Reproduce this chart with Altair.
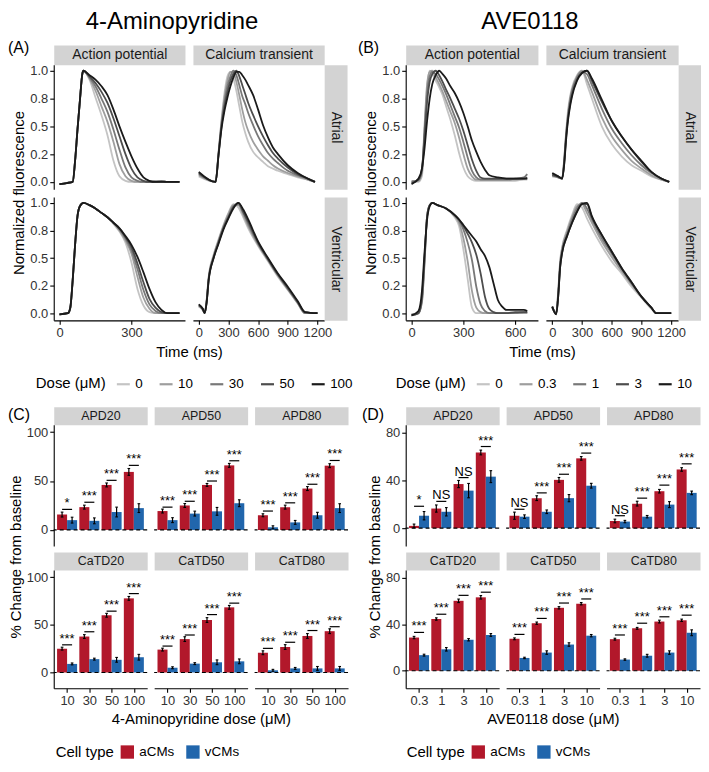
import altair as alt
import pandas as pd

FONT = "Liberation Sans"
STRIP = "#d3d3d3"
GRAYS = ["#c4c4c4", "#9e9e9e", "#787878", "#4d4d4d", "#1a1a1a"]
CELL_COLORS = ["#b2182b", "#2166ac"]
CELLS = ["aCMs", "vCMs"]

DOSES_4AP = ["0", "10", "30", "50", "100"]
DOSES_AVE = ["0", "0.3", "1", "3", "10"]
TRACE_TICKS = [0, 0.25, 0.5, 0.75, 1.0]
TRACE_TICK_LABELS = ["0.0", "0.2", "0.5", "0.8", "1.0"]

T_4AP_AP_ATR = [0, 30, 55, 65, 75, 85, 95, 100, 125, 150, 175, 200, 225, 250, 275, 300,
                325, 350, 375, 400, 425, 450, 475, 500]
V_4AP_AP_ATR = {
    "0":   [-0.02, -0.01, 0.0, 0.19, 0.47, 0.73, 0.97, 1.0, 0.92, 0.76, 0.60, 0.42, 0.19, 0.05, 0.01, 0.0, 0.0, 0.0, 0.01, 0.01, 0.01, 0.0, 0.0, 0.0],
    "10":  [-0.02, -0.01, 0.0, 0.19, 0.47, 0.73, 0.97, 1.0, 0.93, 0.82, 0.68, 0.54, 0.36, 0.16, 0.05, 0.01, 0.0, 0.0, 0.0, 0.01, 0.01, 0.0, 0.0, 0.0],
    "30":  [-0.02, -0.01, 0.0, 0.19, 0.47, 0.73, 0.97, 1.0, 0.94, 0.86, 0.75, 0.63, 0.47, 0.29, 0.13, 0.04, 0.01, 0.0, 0.0, 0.0, 0.01, 0.0, 0.0, 0.0],
    "50":  [-0.02, -0.01, 0.0, 0.19, 0.47, 0.73, 0.97, 1.0, 0.95, 0.89, 0.81, 0.71, 0.57, 0.41, 0.25, 0.12, 0.04, 0.01, 0.0, 0.0, 0.0, 0.0, 0.0, 0.0],
    "100": [-0.02, -0.01, 0.0, 0.19, 0.47, 0.73, 0.97, 1.0, 0.96, 0.92, 0.86, 0.78, 0.65, 0.50, 0.36, 0.23, 0.12, 0.04, 0.01, 0.0, 0.0, 0.0, 0.0, 0.0],
}
T_4AP_CA_ATR = [0, 170, 200, 230, 260, 290, 320, 350, 380, 410, 440, 470, 500, 550, 600, 650,
                700, 750, 800, 900, 1000, 1100, 1175]
V_4AP_CA_ATR = {
    "0":   [0.05, 0.0, 0.27, 0.56, 0.80, 0.95, 0.99, 0.93, 0.82, 0.68, 0.54, 0.44, 0.36, 0.27, 0.22, 0.18, 0.14, 0.12, 0.10, 0.07, 0.04, 0.02, 0.0],
    "10":  [0.06, 0.0, 0.26, 0.54, 0.76, 0.91, 0.99, 0.98, 0.90, 0.78, 0.65, 0.54, 0.46, 0.36, 0.29, 0.23, 0.19, 0.15, 0.12, 0.08, 0.05, 0.02, 0.0],
    "30":  [0.07, 0.0, 0.25, 0.52, 0.72, 0.86, 0.95, 1.0, 0.96, 0.87, 0.77, 0.70, 0.62, 0.51, 0.41, 0.33, 0.26, 0.21, 0.17, 0.10, 0.06, 0.03, 0.0],
    "50":  [0.08, 0.0, 0.25, 0.50, 0.68, 0.81, 0.91, 0.97, 1.0, 0.95, 0.87, 0.79, 0.71, 0.60, 0.50, 0.41, 0.33, 0.26, 0.21, 0.13, 0.07, 0.03, 0.0],
    "100": [0.09, 0.0, 0.24, 0.48, 0.64, 0.76, 0.86, 0.94, 0.99, 0.99, 0.96, 0.92, 0.87, 0.78, 0.65, 0.51, 0.40, 0.31, 0.25, 0.15, 0.08, 0.03, 0.0],
}
T_4AP_AP_VEN = [0, 35, 45, 55, 65, 75, 85, 100, 125, 150, 175, 200, 225, 250, 275, 300,
                325, 350, 375, 400, 425, 450, 475, 500]
V_4AP_AP_VEN = {
    "0":   [-0.01, 0.0, 0.05, 0.30, 0.62, 0.88, 0.97, 1.0, 0.98, 0.95, 0.91, 0.87, 0.81, 0.74, 0.64, 0.46, 0.22, 0.07, 0.01, 0.0, 0.0, 0.0, 0.0, 0.0],
    "10":  [-0.01, 0.0, 0.05, 0.30, 0.62, 0.88, 0.97, 1.0, 0.98, 0.95, 0.91, 0.87, 0.82, 0.75, 0.66, 0.54, 0.33, 0.14, 0.04, 0.0, 0.0, 0.0, 0.0, 0.0],
    "30":  [-0.01, 0.0, 0.05, 0.30, 0.62, 0.88, 0.97, 1.0, 0.98, 0.95, 0.91, 0.87, 0.82, 0.76, 0.68, 0.57, 0.40, 0.21, 0.08, 0.02, 0.0, 0.0, 0.0, 0.0],
    "50":  [-0.01, 0.0, 0.05, 0.30, 0.62, 0.88, 0.97, 1.0, 0.98, 0.95, 0.91, 0.87, 0.82, 0.77, 0.69, 0.60, 0.45, 0.28, 0.13, 0.05, 0.01, 0.0, 0.0, 0.0],
    "100": [-0.01, 0.0, 0.05, 0.30, 0.62, 0.88, 0.97, 1.0, 0.98, 0.95, 0.91, 0.87, 0.82, 0.77, 0.70, 0.62, 0.51, 0.37, 0.22, 0.10, 0.03, 0.0, 0.0, 0.0],
}
T_4AP_CA_VEN = [0, 40, 60, 80, 100, 150, 200, 250, 300, 350, 400, 450, 500, 600, 700, 800,
                900, 1000, 1075, 1200]
V_4AP_CA_VEN = {
    "0":   [0.07, 0.03, 0.0, 0.12, 0.33, 0.53, 0.67, 0.80, 0.91, 0.99, 0.96, 0.87, 0.77, 0.61, 0.47, 0.33, 0.21, 0.09, 0.0, 0.0],
    "10":  [0.06, 0.03, 0.0, 0.12, 0.32, 0.52, 0.66, 0.79, 0.90, 0.98, 0.98, 0.89, 0.79, 0.62, 0.48, 0.34, 0.22, 0.09, 0.0, 0.0],
    "30":  [0.08, 0.04, 0.0, 0.11, 0.31, 0.51, 0.65, 0.78, 0.88, 0.97, 0.99, 0.91, 0.81, 0.63, 0.49, 0.35, 0.22, 0.10, 0.0, 0.0],
    "50":  [0.07, 0.04, 0.0, 0.10, 0.30, 0.50, 0.64, 0.77, 0.87, 0.96, 1.0, 0.92, 0.83, 0.64, 0.49, 0.35, 0.23, 0.10, 0.01, 0.0],
    "100": [0.08, 0.04, 0.0, 0.10, 0.30, 0.50, 0.63, 0.76, 0.86, 0.95, 1.0, 0.94, 0.85, 0.65, 0.50, 0.36, 0.24, 0.11, 0.01, 0.0],
}
T_AVE_AP_ATR = [0, 40, 60, 75, 90, 105, 120, 140, 160, 180, 200, 225, 250, 275, 300, 325,
                350, 375, 400, 425, 450, 500, 550, 600, 650, 670]
V_AVE_AP_ATR = {
    "0":   [0.0, 0.0, 0.05, 0.45, 0.85, 1.0, 0.97, 0.91, 0.85, 0.78, 0.68, 0.56, 0.42, 0.26, 0.13, 0.05, 0.02, 0.01, 0.01, 0.01, 0.01, 0.01, 0.01, 0.01, 0.02, 0.02],
    "0.3": [0.01, 0.01, 0.08, 0.50, 0.88, 0.99, 1.0, 0.94, 0.88, 0.81, 0.73, 0.63, 0.53, 0.40, 0.25, 0.12, 0.05, 0.02, 0.02, 0.02, 0.02, 0.02, 0.02, 0.02, 0.03, 0.03],
    "1":   [0.0, 0.02, 0.10, 0.45, 0.80, 0.95, 0.99, 0.97, 0.92, 0.86, 0.79, 0.69, 0.59, 0.49, 0.36, 0.22, 0.10, 0.04, 0.02, 0.02, 0.02, 0.02, 0.02, 0.03, 0.04, 0.07],
    "3":   [-0.01, 0.02, 0.12, 0.40, 0.72, 0.90, 0.97, 1.0, 0.96, 0.90, 0.83, 0.75, 0.66, 0.57, 0.46, 0.33, 0.20, 0.10, 0.04, 0.03, 0.03, 0.03, 0.03, 0.03, 0.03, 0.04],
    "10":  [-0.02, 0.03, 0.12, 0.30, 0.55, 0.75, 0.88, 0.96, 1.0, 0.97, 0.93, 0.86, 0.80, 0.72, 0.62, 0.50, 0.37, 0.27, 0.18, 0.11, 0.06, 0.04, 0.03, 0.03, 0.03, 0.03],
}
T_AVE_CA_ATR = [0, 60, 100, 120, 140, 160, 180, 200, 250, 300, 350, 400, 500, 600, 700, 800,
                900, 1000, 1100, 1180]
V_AVE_CA_ATR = {
    "0":   [0.06, 0.04, 0.03, 0.20, 0.45, 0.65, 0.77, 0.85, 0.96, 1.0, 0.88, 0.75, 0.50, 0.34, 0.23, 0.15, 0.10, 0.05, 0.02, 0.0],
    "0.3": [0.05, 0.04, 0.03, 0.19, 0.43, 0.62, 0.75, 0.83, 0.95, 1.0, 0.92, 0.81, 0.58, 0.41, 0.29, 0.19, 0.12, 0.06, 0.02, 0.0],
    "1":   [0.07, 0.04, 0.03, 0.18, 0.42, 0.60, 0.73, 0.82, 0.94, 0.99, 0.97, 0.87, 0.66, 0.48, 0.35, 0.24, 0.15, 0.08, 0.03, 0.0],
    "3":   [0.06, 0.05, 0.03, 0.16, 0.40, 0.58, 0.70, 0.79, 0.92, 0.98, 1.0, 0.91, 0.72, 0.55, 0.41, 0.29, 0.18, 0.09, 0.03, 0.0],
    "10":  [0.08, 0.05, 0.03, 0.15, 0.38, 0.56, 0.68, 0.77, 0.91, 0.98, 1.0, 0.93, 0.74, 0.55, 0.41, 0.29, 0.19, 0.09, 0.03, 0.0],
}
T_AVE_AP_VEN = [0, 40, 60, 75, 90, 105, 120, 150, 200, 250, 275, 300, 325, 350, 375, 400,
                425, 450, 475, 500, 525, 550, 600, 650, 670]
V_AVE_AP_VEN = {
    "0":   [-0.01, 0.0, 0.10, 0.45, 0.88, 0.98, 1.0, 0.98, 0.95, 0.87, 0.79, 0.58, 0.31, 0.05, 0.0, 0.0, 0.0, 0.0, 0.0, 0.0, 0.0, 0.0, 0.0, 0.0, 0.0],
    "0.3": [-0.01, 0.0, 0.10, 0.45, 0.88, 0.98, 1.0, 0.98, 0.95, 0.88, 0.82, 0.68, 0.47, 0.20, 0.05, 0.01, 0.0, 0.0, 0.0, 0.0, 0.0, 0.0, 0.0, 0.0, 0.0],
    "1":   [-0.02, 0.0, 0.12, 0.48, 0.88, 0.98, 1.0, 0.98, 0.95, 0.89, 0.84, 0.76, 0.64, 0.48, 0.24, 0.08, 0.02, 0.0, 0.0, 0.0, 0.0, 0.0, 0.0, 0.01, 0.01],
    "3":   [-0.02, 0.0, 0.14, 0.50, 0.88, 0.98, 1.0, 0.98, 0.95, 0.89, 0.85, 0.79, 0.72, 0.64, 0.53, 0.36, 0.15, 0.04, 0.01, 0.0, 0.0, 0.0, 0.01, 0.01, 0.01],
    "10":  [-0.02, 0.02, 0.20, 0.55, 0.85, 0.97, 1.0, 0.98, 0.95, 0.89, 0.85, 0.80, 0.75, 0.70, 0.65, 0.58, 0.52, 0.42, 0.27, 0.12, 0.06, 0.03, 0.03, 0.03, 0.02],
}
T_AVE_CA_VEN = [0, 40, 60, 80, 100, 150, 200, 250, 300, 350, 400, 500, 600, 700, 800, 900,
                1000, 1050, 1200]
V_AVE_CA_VEN = {
    "0":   [0.05, 0.0, 0.20, 0.48, 0.60, 0.76, 0.89, 0.99, 0.96, 0.86, 0.77, 0.61, 0.47, 0.36, 0.24, 0.14, 0.04, 0.0, 0.0],
    "0.3": [0.05, 0.0, 0.19, 0.46, 0.59, 0.74, 0.87, 0.97, 0.99, 0.91, 0.82, 0.65, 0.51, 0.38, 0.26, 0.15, 0.05, 0.0, 0.0],
    "1":   [0.06, 0.0, 0.17, 0.44, 0.57, 0.72, 0.85, 0.95, 1.0, 0.95, 0.85, 0.68, 0.54, 0.40, 0.27, 0.15, 0.05, 0.0, 0.0],
    "3":   [0.06, -0.01, 0.15, 0.42, 0.55, 0.70, 0.82, 0.92, 0.99, 0.99, 0.87, 0.71, 0.56, 0.41, 0.28, 0.15, 0.05, 0.0, 0.0],
    "10":  [0.06, -0.01, 0.15, 0.42, 0.55, 0.70, 0.82, 0.92, 0.99, 1.0, 0.88, 0.71, 0.56, 0.41, 0.28, 0.15, 0.05, 0.0, 0.0],
}

METRICS = ["APD20", "APD50", "APD80", "CaTD20", "CaTD50", "CaTD80"]
BAR_DOSES_4AP = ["10", "30", "50", "100"]
BAR_DOSES_AVE = ["0.3", "1", "3", "10"]

A_MEAN_4AP = {"APD20": [15.7, 23.3, 46.0, 59.3], "APD50": [19.3, 25.0, 46.0, 66.0],
              "APD80": [15.0, 23.3, 42.3, 65.7], "CaTD20": [25.0, 37.7, 60.0, 77.7],
              "CaTD50": [24.0, 35.0, 55.0, 68.3], "CaTD80": [20.7, 26.7, 38.3, 43.3]}
A_ERR_4AP = {"APD20": [2.5, 2.0, 2.0, 3.5], "APD50": [2.0, 2.0, 1.5, 2.0],
             "APD80": [1.5, 2.0, 2.0, 2.0], "CaTD20": [1.5, 2.0, 2.0, 2.0],
             "CaTD50": [1.5, 2.5, 2.5, 2.0], "CaTD80": [2.0, 2.5, 2.5, 2.5]}
V_MEAN_4AP = {"APD20": [10.0, 9.3, 18.3, 22.3], "APD50": [10.0, 16.7, 19.0, 27.3],
              "APD80": [2.7, 7.7, 15.0, 22.3], "CaTD20": [9.0, 14.0, 13.3, 16.0],
              "CaTD50": [5.0, 9.3, 10.7, 11.7], "CaTD80": [2.3, 4.3, 4.3, 4.3]}
V_ERR_4AP = {"APD20": [3.0, 3.0, 5.0, 4.5], "APD50": [2.5, 2.5, 4.0, 3.5],
             "APD80": [1.5, 2.0, 3.0, 4.5], "CaTD20": [1.0, 1.0, 2.5, 3.0],
             "CaTD50": [1.0, 1.0, 2.5, 2.5], "CaTD80": [1.0, 1.0, 2.0, 2.0]}
SIG_Y_4AP = {"APD20": [21.0, 28.3, 50.7, 66.0], "APD50": [23.3, 29.3, 50.0, 70.7],
             "APD80": [19.3, 27.7, 46.7, 71.0], "CaTD20": [29.0, 42.7, 64.3, 82.7],
             "CaTD50": [27.7, 39.3, 60.7, 72.7], "CaTD80": [25.3, 31.7, 44.0, 48.0]}
SIG_4AP = {"APD20": ["*", "***", "***", "***"], "APD50": ["***", "***", "***", "***"],
           "APD80": ["***", "***", "***", "***"], "CaTD20": ["***", "***", "***", "***"],
           "CaTD50": ["***", "***", "***", "***"], "CaTD80": ["***", "***", "***", "***"]}

A_MEAN_AVE = {"APD20": [1.9, 16.4, 36.9, 63.3], "APD50": [10.4, 25.1, 40.4, 58.4],
              "APD80": [6.0, 20.5, 30.9, 49.1], "CaTD20": [28.5, 44.4, 60.0, 63.0],
              "CaTD50": [27.4, 40.8, 54.0, 57.5], "CaTD80": [27.1, 36.4, 42.2, 43.3]}
A_ERR_AVE = {"APD20": [1.5, 3.0, 3.0, 2.0], "APD50": [3.0, 2.0, 2.0, 1.5],
             "APD80": [1.5, 2.0, 1.5, 1.5], "CaTD20": [1.0, 1.0, 1.5, 1.5],
             "CaTD50": [0.8, 1.0, 1.0, 1.0], "CaTD80": [0.8, 0.8, 1.2, 1.0]}
V_MEAN_AVE = {"APD20": [10.4, 13.7, 31.4, 43.1], "APD50": [9.6, 13.7, 25.1, 35.5],
              "APD80": [5.5, 9.6, 19.7, 29.5], "CaTD20": [13.4, 18.4, 26.6, 30.7],
              "CaTD50": [11.0, 15.6, 22.5, 30.1], "CaTD80": [9.6, 12.9, 15.6, 32.6]}
V_ERR_AVE = {"APD20": [3.5, 3.5, 6.0, 5.0], "APD50": [1.5, 1.5, 3.0, 2.0],
             "APD80": [1.0, 1.0, 2.5, 1.5], "CaTD20": [0.8, 1.5, 1.0, 1.2],
             "CaTD50": [0.6, 1.5, 1.5, 1.0], "CaTD80": [0.6, 1.2, 1.5, 2.5]}
SIG_Y_AVE = {"APD20": [18.3, 22.4, 42.3, 68.3], "APD50": [15.8, 29.5, 45.1, 62.8],
             "APD80": [10.4, 25.1, 36.0, 53.8], "CaTD20": [32.9, 48.5, 64.7, 67.4],
             "CaTD50": [31.2, 44.9, 58.1, 61.6], "CaTD80": [30.7, 40.8, 46.3, 47.7]}
SIG_AVE = {"APD20": ["*", "NS", "NS", "***"], "APD50": ["NS", "***", "***", "***"],
           "APD80": ["NS", "***", "***", "***"], "CaTD20": ["***", "***", "***", "***"],
           "CaTD50": ["***", "***", "***", "***"], "CaTD80": ["***", "***", "***", "***"]}

BAR_TICKS_4AP = [0, 25, 50, 75, 100]
BAR_TICKS_AVE = [0, 20, 40, 60, 80]

ATR_H, VEN_H, TR_GAP = 125, 124, 8
BTOP_H, BBOT_H, BAR_ROWGAP, BAR_COLGAP = 122, 119, 24, 7
DODGE = 0.9
CAP = 0.06

BASE_AXIS = dict(grid=False, domainColor="black", domainWidth=1.1, tickColor="black",
                 tickWidth=1.1, tickSize=4, labelColor="#333333", labelFont=FONT,
                 labelFontSize=13, labelPadding=2, titleFont=FONT, titleFontSize=15,
                 titleFontWeight="normal", titleColor="black", labelFlush=False,
                 labelOverlap=False)


def label_expr(values, labels):
    return " : ".join(f"datum.value == {v} ? '{l}'" for v, l in zip(values, labels)) + " : ''"


def top_strip(label, h, fs):
    return alt.Axis(orient="top", title=label, labels=False, ticks=False, grid=False,
                    domainColor=STRIP, domainWidth=h, offset=h / 2, titleY=0,
                    titleBaseline="middle", titleFont=FONT, titleFontSize=fs,
                    titleFontWeight="normal", titleColor="#1a1a1a", titlePadding=0)


def right_strip(label, w, fs):
    return alt.Axis(orient="right", title=label, labels=False, ticks=False, grid=False,
                    domainColor=STRIP, domainWidth=w, offset=w / 2, titleX=0, titleAngle=90,
                    titleBaseline="middle", titleAlign="center", titleFont=FONT,
                    titleFontSize=fs, titleFontWeight="normal", titleColor="#1a1a1a",
                    titlePadding=0)


def annotation(text, x, y, size, align):
    return alt.Chart(pd.DataFrame({"label": [text]})).mark_text(
        font=FONT, fontSize=size, align=align, baseline="alphabetic", color="black"
    ).encode(text="label:N", x=alt.value(x), y=alt.value(y))


def dose_legend(x, y):
    return alt.Legend(title="Dose (μM)", orient="none", legendX=x, legendY=y,
                      direction="horizontal", titleOrient="left", symbolType="stroke",
                      symbolSize=170, symbolStrokeWidth=2.2, labelFont=FONT,
                      labelFontSize=13.5, labelColor="black", labelOffset=4,
                      columnPadding=12, gridAlign="each", titleFont=FONT, titleFontSize=15,
                      titleFontWeight="normal", titleColor="black", titlePadding=9)


def cell_legend(x, y):
    return alt.Legend(title="Cell type", orient="none", legendX=x, legendY=y,
                      direction="horizontal", titleOrient="left", symbolType="square",
                      symbolSize=180, symbolStrokeWidth=0, labelFont=FONT,
                      labelFontSize=13.5, labelColor="black", labelOffset=5,
                      columnPadding=11, gridAlign="each", titleFont=FONT, titleFontSize=15,
                      titleFontWeight="normal", titleColor="black", titlePadding=6)


def trace_panel(times, curves, doses, xdom, xticks, w, legend=None, top=None, right=None,
                left=False, bottom=False, ytitle=None, xtitle=None):
    rows = []
    for d in doses:
        for t, v in zip(times, curves[d]):
            rows.append({"t": t, "v": v, "dose": d})
    df = pd.DataFrame(rows)
    if top:
        xax = top_strip(top, 20, 14)
    elif bottom:
        kw = dict(BASE_AXIS, orient="bottom", values=xticks, format="d")
        if xtitle:
            kw.update(title=xtitle, titleX=(2 * w + TR_GAP) / 2, titlePadding=5)
        xax = alt.Axis(**kw)
    else:
        xax = None
    if right:
        yax = right_strip(right, 23, 14)
    elif left:
        kw = dict(BASE_AXIS, orient="left", values=TRACE_TICKS,
                  labelExpr=label_expr(TRACE_TICKS, TRACE_TICK_LABELS))
        if ytitle:
            kw.update(title=ytitle, titleY=(ATR_H + TR_GAP + VEN_H) / 2, titlePadding=3)
        yax = alt.Axis(**kw)
    else:
        yax = None
    return alt.Chart(df).mark_line(strokeWidth=1.8, interpolate="monotone").encode(
        x=alt.X("t:Q", title=None, scale=alt.Scale(domain=xdom, nice=False, zero=False), axis=xax),
        y=alt.Y("v:Q", title=None, scale=alt.Scale(domain=[-0.065, 1.053], nice=False, zero=False), axis=yax),
        color=alt.Color("dose:N", sort=doses, scale=alt.Scale(domain=doses, range=GRAYS), legend=legend),
    )


def trace_block(drug, label, label_x, title_x, data, doses, w, ap_dom, ap_ticks, ca_dom,
                ca_ticks, legend):
    (tA, vA), (tB, vB), (tC, vC), (tD, vD) = data
    p1 = alt.layer(
        trace_panel(tA, vA, doses, ap_dom, ap_ticks, w, top="Action potential", left=True,
                    ytitle="Normalized fluorescence"),
        annotation(drug, title_x, -36, 24, "center"),
        annotation(label, label_x, -12, 16, "left"),
    ).properties(width=w, height=ATR_H)
    p2 = trace_panel(tB, vB, doses, ca_dom, ca_ticks, w, top="Calcium transient",
                     right="Atrial").properties(width=w, height=ATR_H)
    p3 = trace_panel(tC, vC, doses, ap_dom, ap_ticks, w, legend=legend, left=True,
                     bottom=True, xtitle="Time (ms)").properties(width=w, height=VEN_H)
    p4 = trace_panel(tD, vD, doses, ca_dom, ca_ticks, w, right="Ventricular",
                     bottom=True).properties(width=w, height=VEN_H)
    return alt.concat(p1, p2, p3, p4, columns=2, spacing=TR_GAP, bounds="flush"
                      ).resolve_scale(color="independent")


def bar_panel(metric, doses, am, ae, vm, ve, sy, sl, ydom, yticks, w, h, legend=None,
              left=False, bottom=False, ytitle=None, xtitle=None, panel_label=None):
    rows = []
    for i, d in enumerate(doses):
        for j, (m, e) in enumerate([(am[i], ae[i]), (vm[i], ve[i])]):
            c = i - DODGE / 4 + j * DODGE / 2
            rows.append({"cell": CELLS[j], "x0": i - DODGE / 2 + j * DODGE / 2,
                         "x1": i + j * DODGE / 2, "xc": c, "c0": c - CAP, "c1": c + CAP,
                         "mean": m, "base": 0, "lo": m - e, "hi": m + e})
    df = pd.DataFrame(rows)
    n = len(doses)
    sig = pd.DataFrame({"xc": list(range(n)),
                        "xl": [i - DODGE / 4 for i in range(n)],
                        "xr": [i + DODGE / 4 for i in range(n)],
                        "y": sy, "label": sl})
    zdf = pd.DataFrame({"z": [0]})
    xs = alt.Scale(domain=[-0.6, n - 0.4], nice=False, zero=False)
    ys = alt.Scale(domain=ydom, nice=False, zero=False)
    if bottom:
        kw = dict(BASE_AXIS, orient="bottom", values=list(range(n)),
                  labelExpr=label_expr(list(range(n)), doses))
        if xtitle:
            kw.update(title=xtitle, titlePadding=4)
        xax = alt.Axis(**kw)
    else:
        xax = None
    if left:
        kw = dict(BASE_AXIS, orient="left", values=yticks, format="d", title=ytitle)
        if ytitle:
            kw.update(titleY=(BTOP_H + BAR_ROWGAP + BBOT_H) / 2, titlePadding=3)
        yax = alt.Axis(**kw)
    else:
        yax = None
    bars = alt.Chart(df).mark_bar().encode(
        x=alt.X("x0:Q", scale=xs, axis=xax, title=None),
        x2="x1:Q",
        y=alt.Y("mean:Q", scale=ys, axis=yax, title=None),
        y2="base:Q",
        color=alt.Color("cell:N", sort=CELLS, scale=alt.Scale(domain=CELLS, range=CELL_COLORS), legend=legend),
    )
    zero = alt.Chart(zdf).mark_rule(color="black", strokeDash=[4, 3], strokeWidth=1.2).encode(
        y=alt.Y("z:Q", scale=ys))
    err = alt.Chart(df).mark_rule(color="black", strokeWidth=1.2).encode(
        x=alt.X("xc:Q", scale=xs, axis=None), y=alt.Y("lo:Q", scale=ys), y2="hi:Q")
    cap_lo = alt.Chart(df).mark_rule(color="black", strokeWidth=1.1).encode(
        x=alt.X("c0:Q", scale=xs, axis=None), x2="c1:Q", y=alt.Y("lo:Q", scale=ys))
    cap_hi = alt.Chart(df).mark_rule(color="black", strokeWidth=1.1).encode(
        x=alt.X("c0:Q", scale=xs, axis=None), x2="c1:Q", y=alt.Y("hi:Q", scale=ys))
    line = alt.Chart(sig).mark_rule(color="black", strokeWidth=1.2).encode(
        x=alt.X("xl:Q", scale=xs, axis=top_strip(metric, 18, 12.5), title=None),
        x2="xr:Q",
        y=alt.Y("y:Q", scale=ys))
    text = alt.Chart(sig).mark_text(font=FONT, fontSize=13, baseline="alphabetic", dy=-2,
                                    color="black").encode(
        x=alt.X("xc:Q", scale=xs, axis=None), y=alt.Y("y:Q", scale=ys),
        text="label:N")
    layers = [bars, zero, err, cap_lo, cap_hi, line, text]
    if panel_label:
        layers.append(annotation(panel_label[0], panel_label[1], -5, 16, "left"))
    return alt.layer(*layers).resolve_axis(x="independent").properties(width=w, height=h)


def bar_block(label, label_x, doses, am, ae, vm, ve, sy, sl, ydom, yticks, w, xtitle, legend):
    panels = []
    for i, m in enumerate(METRICS):
        row, col = divmod(i, 3)
        panels.append(bar_panel(m, doses, am[m], ae[m], vm[m], ve[m], sy[m], sl[m], ydom, yticks,
                                w, BTOP_H if row == 0 else BBOT_H,
                                legend=legend if i == 3 else None,
                                left=(col == 0), bottom=(row == 1),
                                ytitle="% Change from baseline" if i == 0 else None,
                                xtitle=xtitle if i == 4 else None,
                                panel_label=(label, label_x) if i == 0 else None))
    return alt.concat(*panels, columns=3, spacing={"row": BAR_ROWGAP, "column": BAR_COLGAP},
                      bounds="flush").resolve_scale(color="independent")


blockA = trace_block("4-Aminopyridine", "(A)", -46, 119,
                     [(T_4AP_AP_ATR, V_4AP_AP_ATR), (T_4AP_CA_ATR, V_4AP_CA_ATR),
                      (T_4AP_AP_VEN, V_4AP_AP_VEN), (T_4AP_CA_VEN, V_4AP_CA_VEN)],
                     DOSES_4AP, 132, [-24, 523], [0, 300], [-59, 1268], [0, 300, 600, 900, 1200],
                     dose_legend(-18, VEN_H + 56))
blockB = trace_block("AVE0118", "(B)", -48, 125,
                     [(T_AVE_AP_ATR, V_AVE_AP_ATR), (T_AVE_CA_ATR, V_AVE_CA_ATR),
                      (T_AVE_AP_VEN, V_AVE_AP_VEN), (T_AVE_CA_VEN, V_AVE_CA_VEN)],
                     DOSES_AVE, 133, [-34, 732], [0, 300, 600], [-64, 1270], [0, 300, 600, 900, 1200],
                     dose_legend(-10, VEN_H + 56))
blockC = bar_block("(C)", -46, BAR_DOSES_4AP, A_MEAN_4AP, A_ERR_4AP, V_MEAN_4AP, V_ERR_4AP,
                   SIG_Y_4AP, SIG_4AP, [-16.5, 107.5], BAR_TICKS_4AP, 94,
                   "4-Aminopyridine dose (μM)", cell_legend(2, BBOT_H + 57))
blockD = bar_block("(D)", -44, BAR_DOSES_AVE, A_MEAN_AVE, A_ERR_AVE, V_MEAN_AVE, V_ERR_AVE,
                   SIG_Y_AVE, SIG_AVE, [-15, 86.5], BAR_TICKS_AVE, 94,
                   "AVE0118 dose (μM)", cell_legend(1, BBOT_H + 57))


def column(top, bottom):
    return alt.vconcat(top, bottom, spacing=16).resolve_scale(color="independent")


chart = alt.hconcat(column(blockA, blockC), column(blockB, blockD), spacing=5
                    ).resolve_scale(color="independent"
                    ).properties(padding=0).configure(font=FONT).configure_view(stroke=None)

chart.save("out.html", embed_options={"renderer": "svg", "actions": False})
